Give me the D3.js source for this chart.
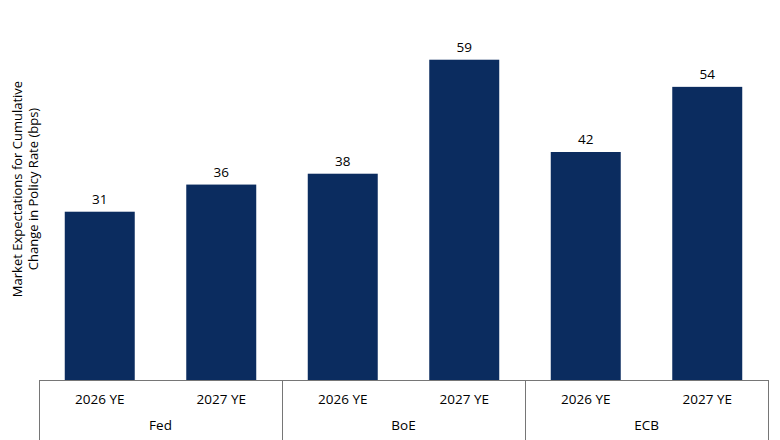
<html>
  <head>
    <script src="https://d3js.org/d3.v7.min.js"></script>
    <style>
      body { margin: 0; background: #fff; }
      text { font-family: "Open Sans", sans-serif; fill: #000; }
    </style>
  </head>
  <body>
<div id="my_dataviz"></div>
<script>
// data
var banks = ["Fed", "BoE", "ECB"];
var periods = ["2026 YE", "2027 YE"];
var values = [31, 36, 38, 59, 42, 54];

var width = 780, height = 440;
var margin = {top: 0, right: 12, bottom: 60, left: 39};

var svg = d3.select("#my_dataviz")
  .append("svg")
    .attr("width", width)
    .attr("height", height);

// one row per bar
var rows = [];
banks.forEach(function(b, i) {
  periods.forEach(function(p, j) {
    rows.push({bank: b, period: p, key: b + "|" + p, value: values[i * periods.length + j]});
  });
});

var x = d3.scaleBand()
  .domain(rows.map(function(d) { return d.key; }))
  .range([margin.left, width - margin.right])
  .paddingInner(0.424)
  .paddingOuter(0.212);

var xGroup = d3.scaleBand()
  .domain(banks)
  .range([margin.left, width - margin.right]);

var y = d3.scaleLinear()
  .domain([0, 70])
  .range([height - margin.bottom, 0]);

// bars
svg.append("g")
  .selectAll("rect")
  .data(rows)
  .enter()
  .append("rect")
    .attr("x", function(d) { return x(d.key); })
    .attr("y", function(d) { return y(d.value); })
    .attr("width", x.bandwidth())
    .attr("height", function(d) { return y(0) - y(d.value); })
    .attr("fill", "#0b2c5f");

// value labels
svg.append("g")
  .selectAll("text")
  .data(rows)
  .enter()
  .append("text")
    .attr("x", function(d) { return x(d.key) + x.bandwidth() / 2; })
    .attr("y", function(d) { return y(d.value) - 8; })
    .attr("text-anchor", "middle")
    .style("font-size", "13.5px")
    .text(function(d) { return d.value; });

// x axis line and group separators
var base = y(0);
svg.append("line")
  .attr("x1", margin.left).attr("x2", width - margin.right)
  .attr("y1", base + 0.5).attr("y2", base + 0.5)
  .attr("stroke", "#767676");

var seps = banks.map(function(b) { return xGroup(b); }).concat([width - margin.right]);
svg.append("g")
  .selectAll("line")
  .data(seps)
  .enter()
  .append("line")
    .attr("x1", function(d) { return Math.round(d) + 0.5; })
    .attr("x2", function(d) { return Math.round(d) + 0.5; })
    .attr("y1", base)
    .attr("y2", height)
    .attr("stroke", "#767676");

// period labels
svg.append("g")
  .selectAll("text")
  .data(rows)
  .enter()
  .append("text")
    .attr("x", function(d) { return x(d.key) + x.bandwidth() / 2; })
    .attr("y", base + 24)
    .attr("text-anchor", "middle")
    .style("font-size", "13.5px")
    .text(function(d) { return d.period; });

// bank labels
svg.append("g")
  .selectAll("text")
  .data(banks)
  .enter()
  .append("text")
    .attr("x", function(d) { return xGroup(d) + xGroup.bandwidth() / 2; })
    .attr("y", base + 50)
    .attr("text-anchor", "middle")
    .style("font-size", "13.5px")
    .text(function(d) { return d; });

// y axis label
var yLabel = svg.append("text")
  .attr("transform", "translate(22,189) rotate(-90)")
  .attr("text-anchor", "middle")
  .style("font-size", "13px");
yLabel.append("tspan").attr("x", 0).attr("y", 0).text("Market Expectations for Cumulative");
yLabel.append("tspan").attr("x", 0).attr("y", 16).text("Change in Policy Rate (bps)");
</script>
  </body>
</html>
